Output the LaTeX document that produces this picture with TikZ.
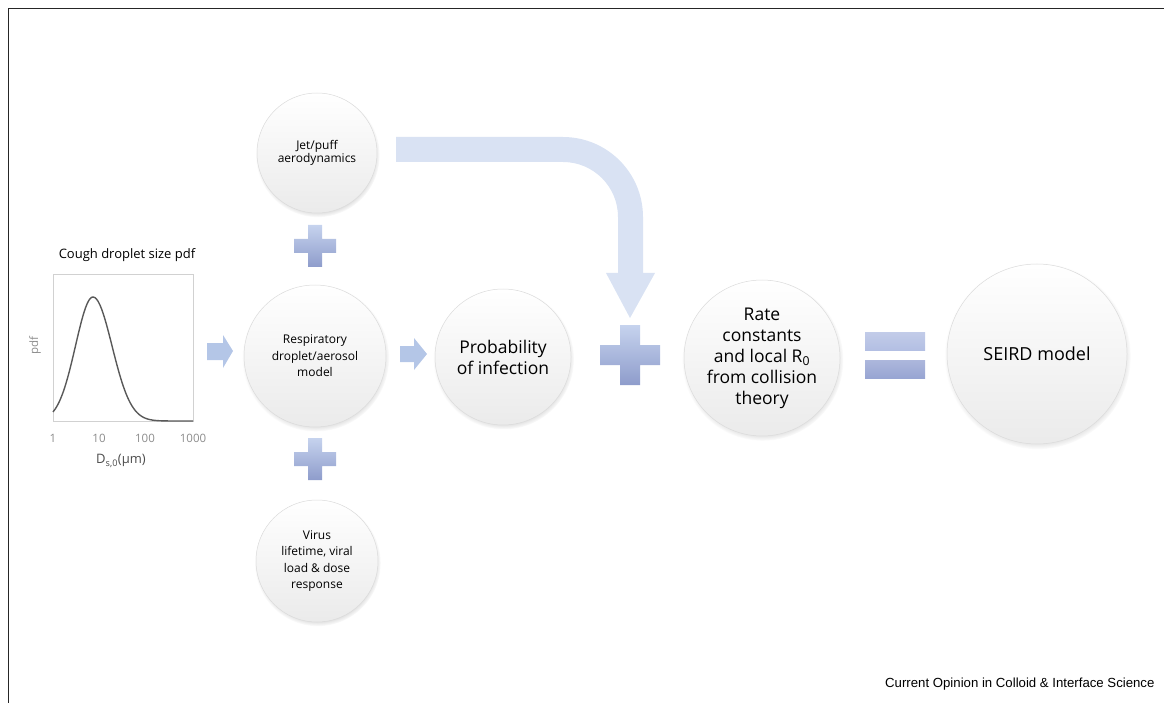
\documentclass[tikz,border=0pt]{standalone}
\usepackage{fontspec}
\setmainfont{Open Sans}
\newfontfamily\arialfont{Liberation Sans}
\usetikzlibrary{shadows}
\definecolor{pluslight}{HTML}{C6D3EE}
\definecolor{plusdark}{HTML}{8E9CCB}
\definecolor{arrowblue}{HTML}{B4C6E7}
\definecolor{bigarrow}{HTML}{D9E2F3}
\definecolor{curvegray}{HTML}{595959}
\definecolor{eqtop}{HTML}{B3BFE3}
\definecolor{eqbot}{HTML}{98A5D3}
\begin{document}
\begin{tikzpicture}[x=1pt,y=-1pt,
  bubble/.style={circle, inner sep=0pt, align=center, top color=white, bottom color=black!8,
    draw=black!14, line width=0.5pt,
    circular drop shadow={shadow xshift=0.6pt, shadow yshift=-2pt, shadow scale=1.035, opacity=0.45}},
  smalltext/.style={font=\fontsize{12}{12.5}\selectfont},
  midtext/.style={font=\fontsize{12}{16.5}\selectfont},
  bigtext/.style={font=\fontsize{17.5}{21}\selectfont},
  titletext/.style={font=\fontsize{13}{15}\selectfont},
  axistext/.style={font=\fontsize{11.5}{13}\selectfont, text=black!45},
  blockarrow/.style={fill=arrowblue, draw=none},
  plussign/.pic={
    \shade[top color=pluslight, bottom color=plusdark]
      ({-#1},{-3*#1}) -- ({#1},{-3*#1}) -- ({#1},{-#1}) -- ({3*#1},{-#1}) -- ({3*#1},{#1})
      -- ({#1},{#1}) -- ({#1},{3*#1}) -- ({-#1},{3*#1}) -- ({-#1},{#1}) -- ({-3*#1},{#1})
      -- ({-3*#1},{-#1}) -- ({-#1},{-#1}) -- cycle;
  }]
\useasboundingbox (0,0) rectangle (1164,703);
% frame
\draw[line width=1.6pt, black!85] (1164,8.5) -- (8.5,8.5) -- (8.5,703);

% big curved arrow
\fill[bigarrow] (396,137) -- (563,137) arc[start angle=-90, end angle=0, radius=80]
  -- (643,273) -- (655,273) -- (630,318) -- (606,273) -- (618,273) -- (618,217)
  arc[start angle=0, end angle=-90, radius=55] -- (396,162) -- cycle;

% plot
\node[draw=black!18, line width=0.6pt, minimum width=140pt, minimum height=147pt, inner sep=0pt] (plotbox) at (123,347.5) {};
\draw[curvegray, line width=1.4pt, line join=round]
  plot[domain=53:93, samples=40, smooth] (\x,{421-124*exp(-((\x-93)*(\x-93))/612)})
  -- plot[domain=93:193, samples=60, smooth] (\x,{421-124*exp(-((\x-93)*(\x-93))/722)});
\node[titletext] (plottitle) at (127,255) {Cough droplet size pdf};
\node[axistext, rotate=90] (ylab) at (35,346) {pdf};
\node[axistext] (t1) at (53,438) {1};
\node[axistext] (t10) at (99,438) {10};
\node[axistext] (t100) at (145,438) {100};
\node[axistext] (t1000) at (193,438) {1000};
\node[axistext, text=black!70, font=\fontsize{13}{15}\selectfont] (xlab) at (121,461) {D\textsubscript{s,0}(µm)};

% small arrows
\fill[blockarrow] (207,343) -- (223,343) -- (223,335) -- (233,351) -- (223,368) -- (223,360) -- (207,360) -- cycle;
\fill[blockarrow] (400,346) -- (414,346) -- (414,338) -- (427,354) -- (414,370) -- (414,362) -- (400,362) -- cycle;

% circles
\node[bubble, minimum size=120pt, smalltext] (jet) at (317,153) {Jet/puff\\aerodynamics};
\node[bubble, minimum size=142pt, midtext] (resp) at (315,356) {Respiratory\\droplet/aerosol\\model};
\node[bubble, minimum size=136pt, bigtext] (prob) at (503,357) {Probability\\of infection};
\node[bubble, minimum size=156pt, bigtext] (rate) at (762,358) {Rate\\constants\\and local R\textsubscript{0}\\from collision\\theory};
\node[bubble, minimum size=180pt, font=\fontsize{18}{21}\selectfont] (seird) at (1037,354) {SEIRD model};
\node[bubble, minimum size=122pt, midtext] (virus) at (317,561) {Virus\\lifetime, viral\\load \& dose\\response};

% plus signs
\pic at (315,246) {plussign=7};
\pic at (315,459) {plussign=7};
\pic at (630,355) {plussign=10};

% equals
\shade[top color=eqtop!80, bottom color=eqtop] (865,332) rectangle (925,350);
\shade[top color=eqbot!80, bottom color=eqbot] (865,360) rectangle (925,378);

% footer
\node[anchor=east, font=\arialfont\fontsize{13.2}{15}\selectfont] (footer) at (1158,684) {Current Opinion in Colloid \& Interface Science};
\end{tikzpicture}
\end{document}
